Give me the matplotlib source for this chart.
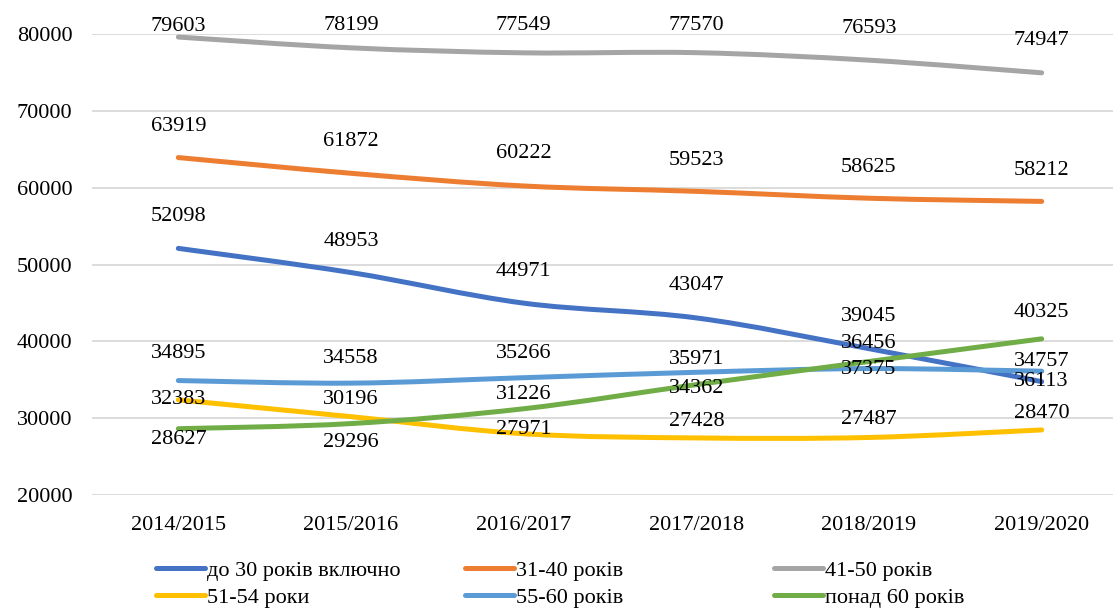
import matplotlib
matplotlib.use('Agg')
import numpy as np
import matplotlib.pyplot as plt
from matplotlib.path import Path
from matplotlib.patches import PathPatch
from matplotlib.lines import Line2D

# data
years = ["2014/2015", "2015/2016", "2016/2017", "2017/2018", "2018/2019", "2019/2020"]
names = ["до 30 років включно", "31-40 років", "41-50 років",
         "51-54 роки", "55-60 років", "понад 60 років"]
under30 = [52098, 48953, 44971, 43047, 39045, 34757]
age31_40 = [63919, 61872, 60222, 59523, 58625, 58212]
age41_50 = [79603, 78199, 77549, 77570, 76593, 74947]
age51_54 = [32383, 30196, 27971, 27428, 27487, 28470]
age55_60 = [34895, 34558, 35266, 35971, 36456, 36113]
over60 = [28627, 29296, 31226, 34362, 37375, 40325]

series = [under30, age31_40, age41_50, age51_54, age55_60, over60]
colors = ["#4472C4", "#ED7D31", "#A5A5A5", "#FFC000", "#5B9BD5", "#70AD47"]

# label shifts in pixels (up is positive), as placed in the original
label_dy = [
    [32, 31, 32, 32, 32, 20],
    [31, 32, 32, 31, 31, 31],
    [11, 22, 27, 27, 32, 32],
    [0, 17, 4, 16, 18, 16],
    [27, 25, 24, 13, 25, -10],
    [-11, -19, 14, -4, -8, 26],
]

plt.rcParams['font.family'] = ['Liberation Serif', 'DejaVu Serif']
FS = 16


def smooth_path(xs, ys):
    # excel-like smoothed line: cubic bezier, catmull-rom tangents / 6
    pts = np.column_stack([xs, ys]).astype(float)
    n = len(pts)
    verts = [pts[0]]
    codes = [Path.MOVETO]
    for i in range(n - 1):
        p0 = pts[i - 1] if i > 0 else pts[i]
        p1 = pts[i]
        p2 = pts[i + 1]
        p3 = pts[i + 2] if i + 2 < n else pts[i + 1]
        c1 = p1 + (p2 - p0) / 6.0
        c2 = p2 - (p3 - p1) / 6.0
        verts += [c1, c2, p2]
        codes += [Path.CURVE4] * 3
    return Path(verts, codes)


W, H = 1113, 610
fig = plt.figure(figsize=(W / 100, H / 100), dpi=100)
ax = fig.add_axes([92 / W, 1 - 495 / H, (1128 - 92) / W, (495 - 34) / H])

x = np.arange(len(years))
for k, vals in enumerate(series):
    p = PathPatch(smooth_path(x, vals), facecolor='none', edgecolor=colors[k],
                  lw=3.6, capstyle='round', joinstyle='round', zorder=3 + k * 0.1)
    ax.add_patch(p)
    for i, v in enumerate(vals):
        ax.annotate(str(v), (x[i], v), xytext=(0, label_dy[k][i]),
                    textcoords='offset pixels', ha='center', va='center',
                    fontsize=FS, color='black', zorder=10)

ax.set_xlim(-0.5, 5.5)
ax.set_ylim(20000, 80000)
ax.set_yticks(np.arange(20000, 80001, 10000))
ax.set_xticks(x)
ax.set_xticklabels(years)
ax.tick_params(axis='y', length=0, pad=14, labelsize=FS)
ax.tick_params(axis='x', length=0, pad=15, labelsize=FS)
ax.grid(axis='y', color='#D9D9D9', lw=1.3, zorder=0)
ax.set_axisbelow(True)
for s in ax.spines.values():
    s.set_visible(False)

# legend - three columns placed by hand like in excel
col_x = [156, 465, 774]
for c in range(3):
    ks = [c, c + 3]
    hs = [Line2D([], [], color=colors[k], lw=3.6, solid_capstyle='round') for k in ks]
    fig.legend(hs, [names[k] for k in ks], loc='center left',
               bbox_to_anchor=(col_x[c] / W, 1 - 584 / H), frameon=False,
               fontsize=FS, handlelength=2.2, handletextpad=0.1,
               borderpad=0, borderaxespad=0, labelspacing=0.3)

fig.savefig('out.png', dpi=100)
